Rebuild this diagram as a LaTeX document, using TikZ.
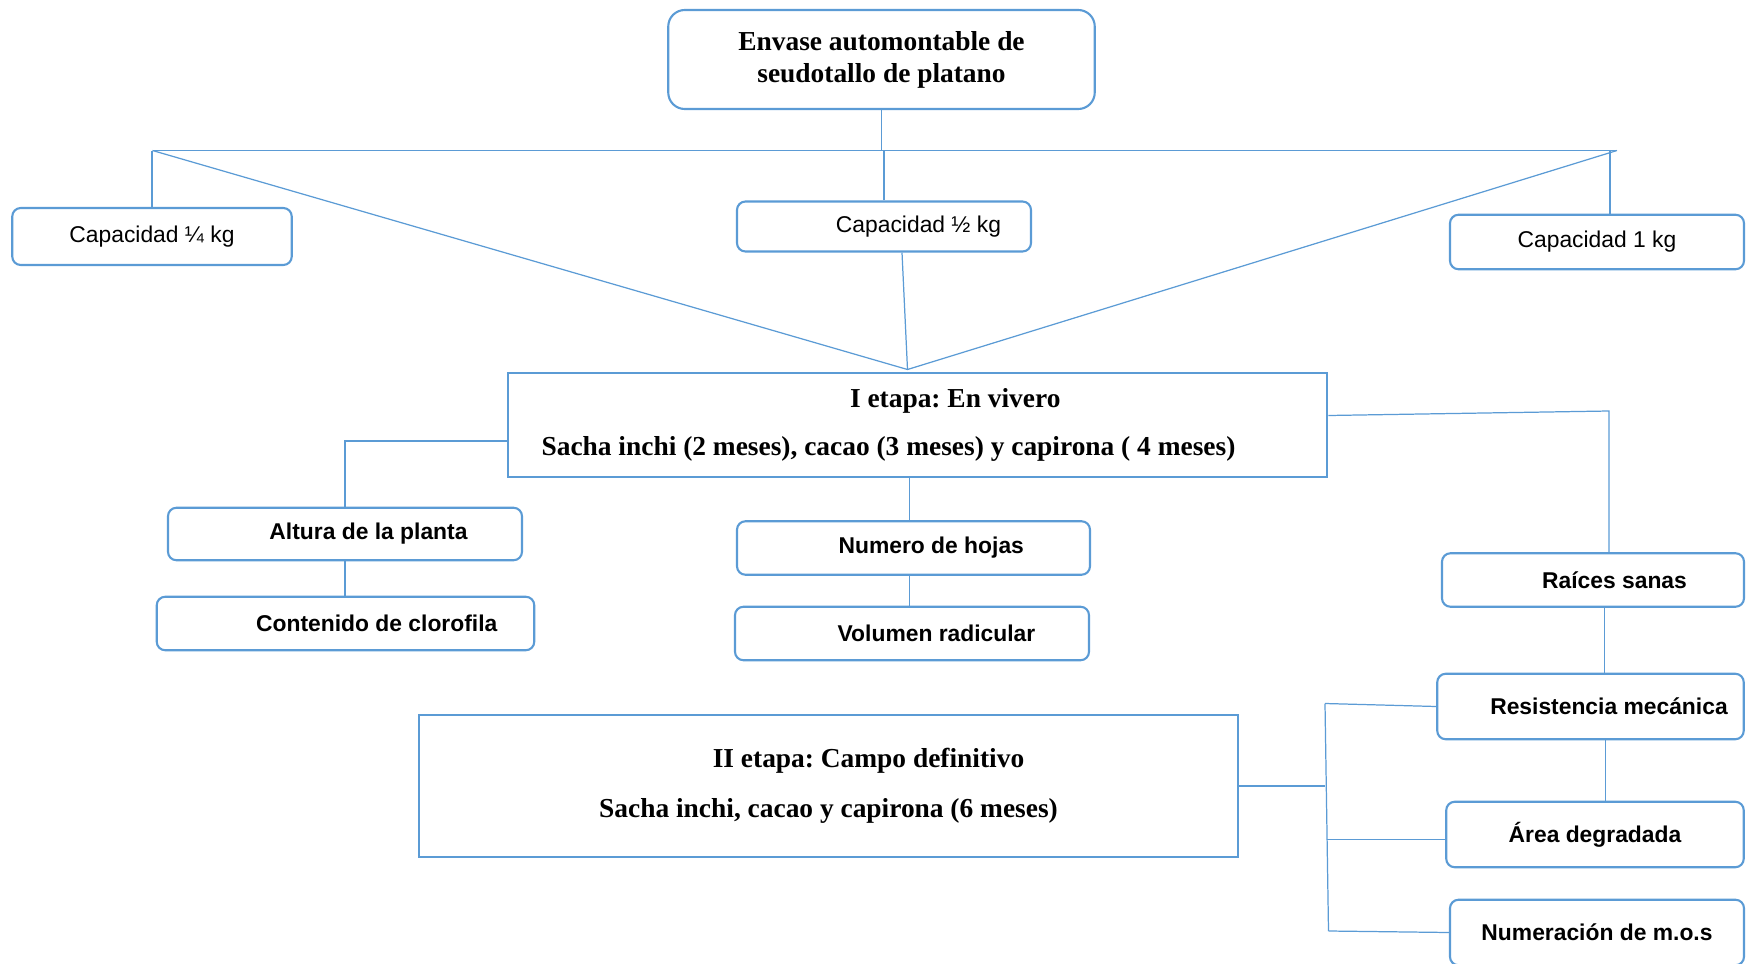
\documentclass[tikz,border=0pt]{standalone}
\usepackage{fontspec}
\setmainfont{Liberation Serif}
\setsansfont{Liberation Sans}
\frenchspacing
\definecolor{wordblue}{RGB}{91,155,213}
\tikzset{
  link/.style={draw=wordblue, line width=0.7pt},
  capbox/.style={draw=wordblue, line width=1.2pt, rounded corners=0.17cm, inner sep=0pt,
    font=\sffamily\fontsize{13}{15}\selectfont},
  varbox/.style={capbox, font=\sffamily\bfseries\fontsize{13}{15}\selectfont},
  stagebox/.style={draw=wordblue, line width=1.2pt, inner sep=0pt, align=center,
    font=\bfseries\fontsize{15.6}{27.5}\selectfont}
}
\begin{document}
\begin{tikzpicture}
\useasboundingbox (0,0) rectangle (34.92 cm,-19.28 cm);
\clip (0,0) rectangle (34.92 cm,-19.28 cm);
% boxes
\node[stagebox, rounded corners=0.33cm, font=\bfseries\fontsize{15.6}{18.3}\selectfont,
  minimum width=8.53 cm, minimum height=1.98 cm] (env) at (17.63 cm,-1.19 cm)
  {Envase automontable de\\seudotallo de platano};
\node[capbox, minimum width=5.59 cm, minimum height=1.14 cm] (quarter) at (3.04 cm,-4.73 cm) {Capacidad ¼ kg};
\node[capbox, minimum width=5.88 cm, minimum height=1.00 cm] (half) at (17.68 cm,-4.53 cm) {\hspace*{1.38cm}Capacidad ½ kg};
\node[capbox, minimum width=5.88 cm, minimum height=1.09 cm] (one) at (31.94 cm,-4.84 cm) {Capacidad 1 kg};
\node[stagebox, minimum width=16.39 cm, minimum height=2.07 cm] (etapa1) at (18.35 cm,-8.50 cm)
  {\hspace*{1.51cm}I etapa: En vivero\\\hspace*{-1.16cm}Sacha inchi (2 meses), cacao (3 meses) y capirona ( 4 meses)};
\node[varbox, minimum width=7.08 cm, minimum height=1.05 cm] (alt) at (6.90 cm,-10.68 cm) {\hspace*{0.94cm}Altura de la planta};
\node[varbox, minimum width=7.55 cm, minimum height=1.07 cm] (clo) at (6.91 cm,-12.47 cm) {\hspace*{1.25cm}Contenido de clorofila};
\node[varbox, minimum width=7.06 cm, minimum height=1.07 cm] (hojas) at (18.27 cm,-10.96 cm) {\hspace*{0.71cm}Numero de hojas};
\node[varbox, minimum width=7.08 cm, minimum height=1.07 cm] (vol) at (18.24 cm,-12.67 cm) {\hspace*{0.98cm}Volumen radicular};
\node[varbox, minimum width=6.04 cm, minimum height=1.07 cm] (raices) at (31.86 cm,-11.60 cm) {\hspace*{0.86cm}Raíces sanas};
\node[varbox, minimum width=6.13 cm, minimum height=1.31 cm] (resist) at (31.81 cm,-14.13 cm) {\hspace*{0.74cm}Resistencia mecánica};
\node[varbox, minimum width=5.95 cm, minimum height=1.31 cm] (area) at (31.90 cm,-16.69 cm) {Área degradada};
\node[varbox, minimum width=5.88 cm, minimum height=1.31 cm] (numer) at (31.94 cm,-18.65 cm) {Numeración de m.o.s};
\node[stagebox, minimum width=16.39 cm, minimum height=2.85 cm, font=\bfseries\fontsize{15.6}{28.5}\selectfont]
  (etapa2) at (16.57 cm,-15.72 cm)
  {\hspace*{1.60cm}II etapa: Campo definitivo\\Sacha inchi, cacao y capirona (6 meses)};
% connectors
\coordinate (barL) at (3.05 cm,-3.01 cm);
\coordinate (barR) at (32.34 cm,-3.01 cm);
\coordinate (apex) at (18.15 cm,-7.39 cm);
\draw[link] (barL) -- (barR);
\draw[link] (barL) -- (apex) -- (barR);
\draw[link] (env.south) -- (env.south |- barL);
\draw[link] (quarter.north) -- (quarter.north |- barL);
\draw[link] (half.north) -- (half.north |- barL);
\draw[link] ([xshift=0.26cm]one.north) -- ([xshift=0.26cm]one.north |- barR);
\draw[link] ([xshift=0.36cm]half.south) -- (apex);
\draw[link] ([yshift=-0.32cm]etapa1.west) -| (alt.north);
\draw[link] (alt.south) -- (alt.south |- clo.north);
\draw[link] ([xshift=-0.08cm]hojas.north |- etapa1.south) -- ([xshift=-0.08cm]hojas.north);
\draw[link] ([xshift=-0.08cm]hojas.south) -- ([xshift=-0.08cm]hojas.south |- vol.north);
\coordinate (rturn) at (32.18 cm,-8.22 cm);
\draw[link] ([yshift=0.19cm]etapa1.east) -- (rturn) -- (rturn |- raices.north);
\draw[link] ([xshift=0.28cm]resist.north) -- ([xshift=0.28cm]resist.north |- raices.south);
\draw[link] ([xshift=0.30cm]resist.south) -- ([xshift=0.30cm]resist.south |- area.north);
\coordinate (brkTop) at (26.50 cm,-14.07 cm);
\coordinate (brkMid) at (26.53 cm,-16.79 cm);
\coordinate (brkBot) at (26.57 cm,-18.62 cm);
\draw[link] (etapa2.east) -- (etapa2.east -| brkTop);
\draw[link] (brkTop) -- (brkBot);
\draw[link] (brkTop) -- (resist.west);
\draw[link] (brkMid) -- (brkMid -| area.west);
\draw[link] (brkBot) -- (numer.west);
\end{tikzpicture}
\end{document}
